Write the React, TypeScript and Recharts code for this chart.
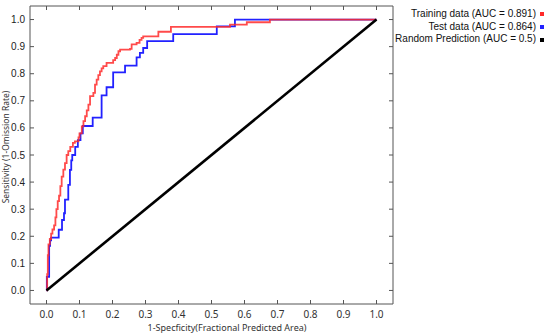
import { LineChart, Line, XAxis, YAxis } from "recharts";

const axisTicks = [0, 0.1, 0.2, 0.3, 0.4, 0.5, 0.6, 0.7, 0.8, 0.9, 1.0];

// training curve (1-specificity, sensitivity), step corners
const trainFpr = [0, 0.002, 0.004, 0.006, 0.01, 0.014, 0.018, 0.023, 0.027, 0.03, 0.034, 0.038, 0.042, 0.046, 0.051, 0.056, 0.061, 0.066, 0.072, 0.08, 0.086, 0.097, 0.1, 0.107, 0.112, 0.117, 0.122, 0.127, 0.132, 0.142, 0.147, 0.152, 0.157, 0.162, 0.167, 0.172, 0.182, 0.202, 0.208, 0.213, 0.218, 0.223, 0.253, 0.258, 0.273, 0.282, 0.288, 0.293, 0.339, 0.377, 0.556, 0.607, 0.677, 1.0];
const trainTpr = [0, 0.06, 0.13, 0.17, 0.19, 0.21, 0.225, 0.24, 0.27, 0.3, 0.33, 0.35, 0.385, 0.42, 0.446, 0.47, 0.5, 0.514, 0.53, 0.545, 0.55, 0.565, 0.58, 0.606, 0.625, 0.643, 0.665, 0.686, 0.717, 0.729, 0.76, 0.778, 0.795, 0.809, 0.82, 0.828, 0.84, 0.85, 0.858, 0.87, 0.883, 0.889, 0.892, 0.908, 0.914, 0.925, 0.932, 0.938, 0.955, 0.973, 0.981, 0.99, 1.0, 1.0];

const testFpr = [0, 0.001, 0.008, 0.011, 0.014, 0.037, 0.047, 0.053, 0.056, 0.066, 0.071, 0.075, 0.078, 0.087, 0.095, 0.103, 0.11, 0.14, 0.167, 0.182, 0.202, 0.238, 0.273, 0.283, 0.293, 0.305, 0.384, 0.516, 0.571, 1.0];
const testTpr = [0, 0.05, 0.165, 0.185, 0.195, 0.224, 0.26, 0.285, 0.335, 0.39, 0.445, 0.48, 0.5, 0.53, 0.555, 0.58, 0.607, 0.638, 0.72, 0.75, 0.805, 0.83, 0.86, 0.877, 0.895, 0.92, 0.946, 0.975, 1.0, 1.0];

const randomFpr = [0, 1];
const randomTpr = [0, 1];

const legendItems = [
  { label: "Training data (AUC = 0.891)", color: "#ff2a2a" },
  { label: "Test data (AUC = 0.864)", color: "#2222ff" },
  { label: "Random Prediction (AUC = 0.5)", color: "#000000" },
];

const toRows = (fpr: number[], tpr: number[]) => fpr.map((f, i) => ({ fpr: f, tpr: tpr[i] }));

const trainData = toRows(trainFpr, trainTpr);
const testData = toRows(testFpr, testTpr);
const randomData = toRows(randomFpr, randomTpr);

const FRAME = "#555";
const TICK_FONT = "'Liberation Sans', Arial, sans-serif";
const X_FONT = "'Noto Sans', 'Open Sans', sans-serif";

const BottomTick = ({ x, y, payload }: any) => (
  <g>
    <line x1={x} y1={y} x2={x} y2={y - 4} stroke={FRAME} />
    <text x={x} y={y + 14} textAnchor="middle" fontSize={10} fontFamily={X_FONT} fill="#333">
      {payload.value.toFixed(1)}
    </text>
  </g>
);

const LeftTick = ({ x, y, payload }: any) => (
  <g>
    <line x1={x} y1={y} x2={x + 4} y2={y} stroke={FRAME} />
    <text x={x - 5} y={y + 3.5} textAnchor="end" fontSize={10} fontFamily={TICK_FONT} fill="#222">
      {payload.value.toFixed(1)}
    </text>
  </g>
);

const TopTick = ({ x, y }: any) => <line x1={x} y1={y} x2={x} y2={y + 4} stroke={FRAME} />;
const RightTick = ({ x, y }: any) => <line x1={x} y1={y} x2={x - 4} y2={y} stroke={FRAME} />;

export default function App() {
  return (
    <div style={{ position: "absolute", left: 0, top: 0, width: 550, height: 335, background: "#fff" }}>
      <LineChart width={550} height={335} margin={{ top: 5, right: 156, bottom: 0, left: 0 }}>
        <XAxis
          dataKey="fpr"
          type="number"
          domain={[-0.05, 1.05]}
          ticks={axisTicks}
          height={31}
          tickSize={0}
          tickMargin={0}
          tickLine={false}
          tick={BottomTick}
          axisLine={{ stroke: FRAME }}
          label={() => (
            <text x={227} y={331} textAnchor="middle" fontSize={9} fontFamily={X_FONT} fill="#333">
              1-Specficity(Fractional Predicted Area)
            </text>
          )}
        />
        <XAxis
          xAxisId="top"
          orientation="top"
          dataKey="fpr"
          type="number"
          domain={[-0.05, 1.05]}
          ticks={axisTicks}
          height={1}
          tickSize={0}
          tickMargin={0}
          tickLine={false}
          tick={TopTick}
          axisLine={{ stroke: FRAME }}
        />
        <YAxis
          type="number"
          domain={[-0.05, 1.05]}
          ticks={axisTicks}
          width={30}
          tickSize={0}
          tickMargin={0}
          tickLine={false}
          tick={LeftTick}
          axisLine={{ stroke: FRAME }}
          label={() => (
            <text
              x={9}
              y={147}
              transform="rotate(-90 9 147)"
              textAnchor="middle"
              fontSize={8.5}
              fontFamily={X_FONT}
              fill="#333"
            >
              Sensitivity (1-Omission Rate)
            </text>
          )}
        />
        <YAxis
          yAxisId="right"
          orientation="right"
          type="number"
          domain={[-0.05, 1.05]}
          ticks={axisTicks}
          width={1}
          tickSize={0}
          tickMargin={0}
          tickLine={false}
          tick={RightTick}
          axisLine={{ stroke: FRAME }}
        />
        <Line
          data={testData}
          dataKey="tpr"
          type="stepAfter"
          stroke="#2222ff"
          strokeWidth={1.8}
          dot={false}
          isAnimationActive={false}
        />
        <Line
          data={trainData}
          dataKey="tpr"
          type="stepAfter"
          stroke="#ff2a2a"
          strokeOpacity={0.85}
          strokeWidth={1.8}
          dot={false}
          isAnimationActive={false}
        />
        <Line
          data={randomData}
          dataKey="tpr"
          xAxisId="top"
          yAxisId="right"
          type="linear"
          stroke="#000"
          strokeWidth={2.6}
          dot={false}
          isAnimationActive={false}
        />
      </LineChart>
      <div
        style={{
          position: "absolute",
          top: 8,
          right: 6,
          fontFamily: TICK_FONT,
          fontSize: 10,
          color: "#111",
          lineHeight: "12.7px",
          textAlign: "right",
        }}
      >
        {legendItems.map((item) => (
          <div key={item.label} style={{ whiteSpace: "nowrap" }}>
            {item.label}
            <span
              style={{
                display: "inline-block",
                width: 4,
                height: 4,
                background: item.color,
                marginLeft: 4,
                verticalAlign: "middle",
              }}
            />
          </div>
        ))}
      </div>
    </div>
  );
}
